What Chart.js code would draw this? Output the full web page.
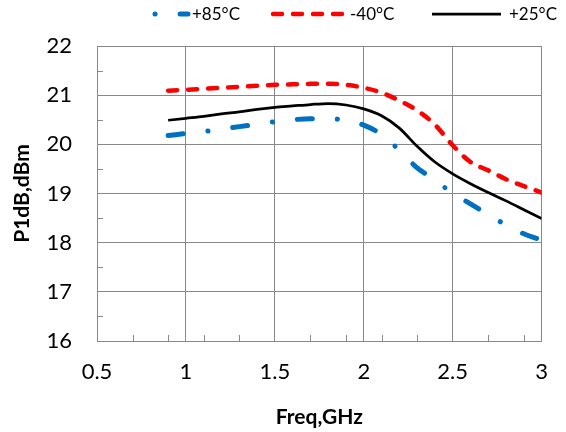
<!DOCTYPE html>
<html>
<head>
<meta charset="utf-8">
<script src="https://cdn.jsdelivr.net/npm/chart.js@4/dist/chart.umd.min.js"></script>
<style>
    html, body { margin: 0; padding: 0; background: #fff; }
</style>
</head>
<body>
<canvas id="chart" width="566" height="432"></canvas>
<script>
// frequency points, GHz
const freq = [0.9, 1.0, 1.1, 1.2, 1.3, 1.4, 1.5, 1.6, 1.7, 1.8, 1.9, 2.0, 2.1, 2.2, 2.3, 2.4, 2.5, 2.6, 2.7, 2.8, 2.9, 3.0];

// P1dB, dBm
const p85 = [20.18, 20.22, 20.26, 20.31, 20.36, 20.41, 20.46, 20.50, 20.52, 20.52, 20.49, 20.39, 20.20, 19.88, 19.52, 19.28, 19.00, 18.79, 18.57, 18.36, 18.18, 18.05];
const m40 = [21.09, 21.11, 21.13, 21.15, 21.17, 21.19, 21.21, 21.22, 21.23, 21.23, 21.21, 21.15, 21.05, 20.89, 20.69, 20.40, 19.98, 19.64, 19.47, 19.29, 19.15, 19.02];
const p25 = [20.49, 20.53, 20.57, 20.62, 20.66, 20.71, 20.75, 20.78, 20.81, 20.83, 20.80, 20.72, 20.58, 20.33, 19.96, 19.64, 19.40, 19.20, 19.02, 18.85, 18.67, 18.49];

const seriesLabels = ['+85°C', '-40°C', '+25°C'];
const xTickLabels = ['0.5', '1', '1.5', '2', '2.5', '3'];
const yTickLabels = ['16', '17', '18', '19', '20', '21', '22'];

const gridGray = '#888888';
const font = 'Lato';

const toPoints = vals => vals.map((v, i) => ({ x: freq[i], y: v }));

// minor ticks inside the plot + Excel-like legend on top
const extras = {
    id: 'extras',
    afterDraw(chart) {
        const ctx = chart.ctx;
        const xs = chart.scales.x, ys = chart.scales.y;
        const area = chart.chartArea;
        ctx.save();
        ctx.strokeStyle = gridGray;
        ctx.lineWidth = 1;
        ctx.beginPath();
        for (let v = 16.5; v < 22; v += 1) {
            const py = Math.round(ys.getPixelForValue(v)) + 0.5;
            ctx.moveTo(area.left, py);
            ctx.lineTo(area.left + 6, py);
        }
        for (let v = 0.7; v < 3; v += 0.2) {
            if (Math.abs(v * 2 - Math.round(v * 2)) < 0.01) continue;
            const px = Math.round(xs.getPixelForValue(v)) + 0.5;
            ctx.moveTo(px, area.bottom);
            ctx.lineTo(px, area.bottom - 6);
        }
        ctx.stroke();

        // legend
        const spots = [
            { x0: 155, x1: 188, tx: 192, off: 40 },
            { x0: 273, x1: 346, tx: 350, off: 0 },
            { x0: 432, x1: 501, tx: 509, off: 0 }
        ];
        const ly = 14;
        chart.data.datasets.forEach((ds, i) => {
            const s = spots[i];
            ctx.strokeStyle = ds.borderColor;
            ctx.lineWidth = ds.borderWidth;
            ctx.lineCap = ds.borderCapStyle || 'butt';
            ctx.setLineDash(ds.borderDash || []);
            ctx.lineDashOffset = s.off;
            ctx.beginPath();
            ctx.moveTo(s.x0, ly);
            ctx.lineTo(s.x1, ly);
            ctx.stroke();
            ctx.setLineDash([]);
            ctx.fillStyle = '#000';
            ctx.font = '17px ' + font;
            ctx.textBaseline = 'middle';
            ctx.textAlign = 'left';
            ctx.fillText(ds.label, s.tx, ly + 1);
        });
        ctx.restore();
    }
};

new Chart(document.getElementById('chart'), {
    type: 'line',
    data: {
        datasets: [
            {
                label: seriesLabels[0],
                data: toPoints(p85),
                borderColor: '#0070C0',
                borderWidth: 5,
                borderDash: [15, 25, 0.1, 25],
                borderCapStyle: 'round',
                pointRadius: 0,
                cubicInterpolationMode: 'monotone',
                fill: false
            },
            {
                label: seriesLabels[1],
                data: toPoints(m40),
                borderColor: '#FF0000',
                borderWidth: 4.5,
                borderDash: [9, 11],
                borderCapStyle: 'round',
                pointRadius: 0,
                cubicInterpolationMode: 'monotone',
                fill: false
            },
            {
                label: seriesLabels[2],
                data: toPoints(p25),
                borderColor: '#000000',
                borderWidth: 2.75,
                pointRadius: 0,
                cubicInterpolationMode: 'monotone',
                fill: false
            }
        ]
    },
    options: {
        responsive: false,
        animation: false,
        layout: { padding: { left: 0, right: 22, top: 46, bottom: 0 } },
        plugins: {
            legend: { display: false },
            tooltip: { enabled: false }
        },
        scales: {
            x: {
                type: 'linear',
                min: 0.5,
                max: 3,
                ticks: {
                    stepSize: 0.5,
                    color: '#000',
                    padding: 18,
                    maxRotation: 0,
                    font: { family: font, size: 22 },
                    callback: (v, i) => xTickLabels[i]
                },
                grid: { color: gridGray, lineWidth: 1, drawTicks: false },
                border: { color: gridGray, width: 1 },
                title: {
                    display: true,
                    text: 'Freq,GHz',
                    color: '#000',
                    font: { family: font, size: 21, weight: 'bold' },
                    padding: { top: 0, bottom: 2 }
                },
                afterFit: s => { s.height = 91; }
            },
            y: {
                min: 16,
                max: 22,
                ticks: {
                    stepSize: 1,
                    color: '#000',
                    padding: 25,
                    font: { family: font, size: 22 },
                    callback: (v, i) => yTickLabels[i]
                },
                grid: { color: gridGray, lineWidth: 1, drawTicks: false },
                border: { color: gridGray, width: 1 },
                title: {
                    display: true,
                    text: 'P1dB,dBm',
                    color: '#000',
                    font: { family: font, size: 21, weight: 'bold' },
                    padding: { top: 10, bottom: 0 }
                },
                afterFit: s => { s.width = 97; }
            }
        }
    },
    plugins: [extras]
});
</script>
</body>
</html>
